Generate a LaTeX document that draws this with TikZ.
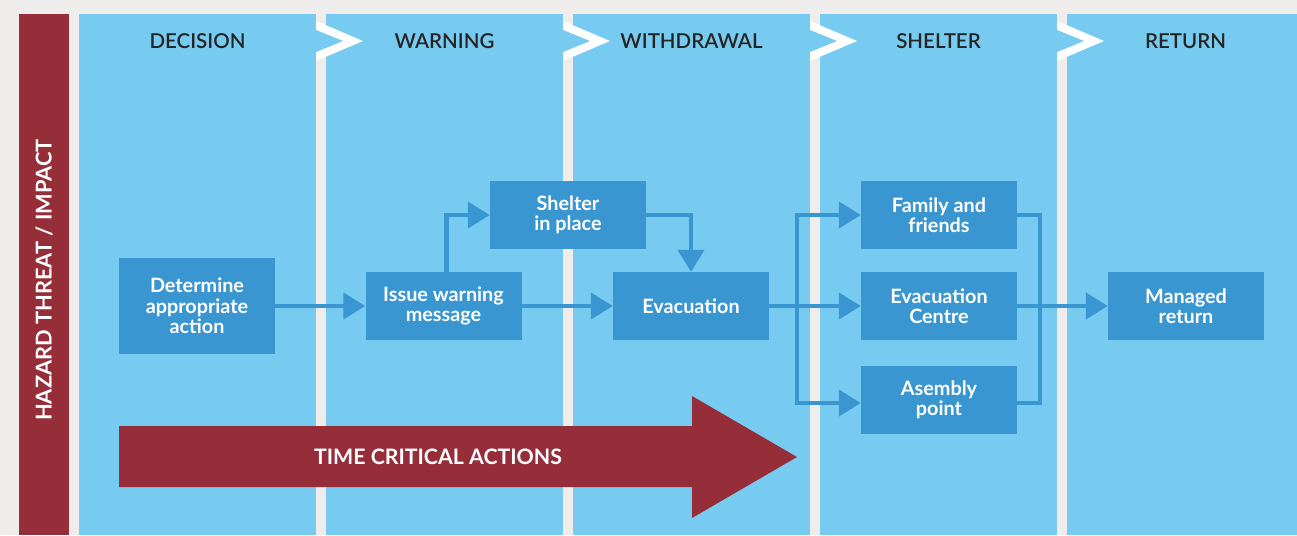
\documentclass[tikz,border=0pt]{standalone}
\usepackage{fontspec}
\setmainfont{Lato}
\newfontfamily\headfont{Lato Semibold}
\usetikzlibrary{arrows.meta}
\definecolor{pagegrey}{HTML}{EEEDEB}
\definecolor{hazardred}{HTML}{962E3A}
\definecolor{panelblue}{HTML}{78CBF0}
\definecolor{boxblue}{HTML}{3A96D0}
\definecolor{headtext}{HTML}{252425}

\begin{document}
\begin{tikzpicture}[x=1pt,y=-1pt,
  box/.style={fill=boxblue, text=white, font=\fontsize{19.8}{20.5}\selectfont\bfseries,
    minimum width=156pt, minimum height=68pt, align=center, inner sep=0pt},
  flow/.style={draw=boxblue, line width=4.3pt, -{Triangle[length=22pt,width=26pt]}},
  link/.style={draw=boxblue, line width=4.3pt},
  phase/.style={text=headtext, font=\headfont\fontsize{20.5}{22}\selectfont}]
\useasboundingbox (0,0) rectangle (1297,535);
\clip (0,0) rectangle (1297,535);
%the page, the red side bar and the five phase columns
\fill[pagegrey] (0,0) rectangle (1297,535);
\fill[hazardred] (19,14) rectangle (69,535);
\foreach \x in {79,326,573,820,1067}
  \fill[panelblue] (\x,14) rectangle ++(237,521);
% white chevrons between the columns
\foreach \x in {316,563,810,1057}{
  \fill[white] (\x,21) -- (\x+47,41) -- (\x,61) -- cycle;
  \fill[panelblue] (\x,30) -- (\x+27,41) -- (\x,52) -- cycle;
}
% column headings
\node[phase] (decision) at (197.5,41) {DECISION};
\node[phase] (warning) at (444.5,41) {WARNING};
\node[phase] (withdrawal) at (691.5,41) {WITHDRAWAL};
\node[phase] (shelterhead) at (938.5,41) {SHELTER};
\node[phase] (return) at (1185.5,41) {RETURN};
\node[rotate=90, text=white, font=\fontsize{21.8}{23}\selectfont\bfseries] (hazard)
  at (44,280) {HAZARD THREAT / IMPACT};
%the boxes of the flow, left to right
\node[box, minimum height=96pt] (determine) at (197,306) {Determine\\appropriate\\action};
\node[box] (issue) at (443.5,306) {Issue warning\\message};
\node[box] (shelter) at (568,215) {Shelter\\in place};
\node[box] (evac) at (691,306) {Evacuation};
\node[box] (family) at (939,215) {Family and\\friends};
\node[box] (centre) at (939,306) {Evacuation\\Centre};
\node[box] (asembly) at (939,400) {Asembly\\point};
\node[box] (managed) at (1186,306) {Managed\\return};
\coordinate (split) at (797,306);
\coordinate (join) at (1040,306);
%connectors
\draw[flow] (determine) -- (issue);
\draw[flow] (issue) -- (evac);
\draw[flow] ([xshift=3pt]issue.north) |- (shelter.west);
\draw[flow] (shelter.east) -| (evac.north);
\draw[flow] (evac) -- (centre);
\draw[flow] (split) |- (family.west);
\draw[flow] (split) |- ([yshift=-3pt]asembly.west);
\draw[link] (family.east) -| (join) |- ([yshift=-3pt]asembly.east);
\draw[flow] (centre) -- (managed);
%the big arrow at the bottom
\fill[hazardred] (119,426) -- (692,426) -- (692,396) -- (797,457) -- (692,518)
  -- (692,487) -- (119,487) -- cycle;
\node[text=white, font=\fontsize{21.3}{22}\selectfont\bfseries] (critical) at (438,457)
  {TIME CRITICAL ACTIONS};
\end{tikzpicture}
\end{document}
